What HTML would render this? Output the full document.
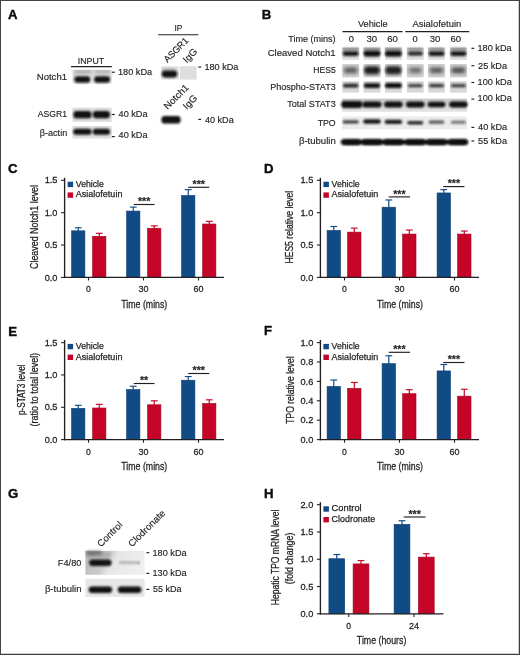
<!DOCTYPE html>
<html lang="en">
<head>
<meta charset="utf-8">
<title>Figure</title>
<style>
html, body { margin: 0; padding: 0; background: #ffffff; }
body { width: 520px; height: 655px; overflow: hidden; position: relative; }
#frame { position: absolute; left: 0; top: 0; width: 520px; height: 655px; box-sizing: border-box;
  border-style: solid; border-color: #454545 #3e3e3e #3e3e3e #454545; border-width: 1px 1.5px 1.3px 1px; box-shadow: inset -1px -1px 0 0 rgba(80,80,80,0.28); pointer-events: none; }
svg { position: absolute; left: 0; top: 0; display: block; will-change: transform; opacity: 0.9999; }
svg text { font-family: "Liberation Sans", sans-serif; }
</style>
</head>
<body>
<svg width="520" height="655" viewBox="0 0 520 655">
<defs>
<filter id="b06" x="-10%" y="-20%" width="120%" height="140%"><feGaussianBlur stdDeviation="0.6"/></filter>
<filter id="b10" x="-20%" y="-60%" width="140%" height="220%"><feGaussianBlur stdDeviation="0.9"/></filter>
<filter id="b16" x="-30%" y="-80%" width="160%" height="260%"><feGaussianBlur stdDeviation="1.7"/></filter>
<linearGradient id="gA" x1="0" y1="0" x2="0" y2="1"><stop offset="0" stop-color="#c6c6c6"/><stop offset="1" stop-color="#e2e2e2"/></linearGradient>
<linearGradient id="gB" x1="0" y1="0" x2="0" y2="1"><stop offset="0" stop-color="#c9c9c9"/><stop offset="1" stop-color="#e4e4e4"/></linearGradient>
<linearGradient id="gG" x1="0" y1="0" x2="1" y2="0.25"><stop offset="0" stop-color="#b6b6b6"/><stop offset="0.42" stop-color="#cbcbcb"/><stop offset="0.56" stop-color="#e6e6e6"/><stop offset="1" stop-color="#efefef"/></linearGradient>
<linearGradient id="gN" x1="0" y1="0" x2="0" y2="1"><stop offset="0" stop-color="#d4d4d4"/><stop offset="0.5" stop-color="#dcdcdc"/><stop offset="1" stop-color="#ececec"/></linearGradient>
</defs>
<rect x="71.60" y="230.82" width="13.30" height="46.58" fill="#104b86" stroke="#0b3c6e" stroke-width="0.6"/>
<line x1="78.25" y1="231.02" x2="78.25" y2="227.80" stroke="#104b86" stroke-width="1.2" stroke-linecap="butt"/>
<line x1="74.85" y1="227.80" x2="81.65" y2="227.80" stroke="#104b86" stroke-width="1.15" stroke-linecap="butt"/>
<rect x="92.60" y="236.32" width="13.30" height="41.08" fill="#c40527" stroke="#a30320" stroke-width="0.6"/>
<line x1="99.25" y1="236.52" x2="99.25" y2="233.30" stroke="#c40527" stroke-width="1.2" stroke-linecap="butt"/>
<line x1="95.85" y1="233.30" x2="102.65" y2="233.30" stroke="#c40527" stroke-width="1.15" stroke-linecap="butt"/>
<rect x="126.60" y="211.07" width="13.30" height="66.33" fill="#104b86" stroke="#0b3c6e" stroke-width="0.6"/>
<line x1="133.25" y1="211.27" x2="133.25" y2="207.09" stroke="#104b86" stroke-width="1.2" stroke-linecap="butt"/>
<line x1="129.85" y1="207.09" x2="136.65" y2="207.09" stroke="#104b86" stroke-width="1.15" stroke-linecap="butt"/>
<rect x="147.60" y="228.23" width="13.30" height="49.17" fill="#c40527" stroke="#a30320" stroke-width="0.6"/>
<line x1="154.25" y1="228.43" x2="154.25" y2="225.86" stroke="#c40527" stroke-width="1.2" stroke-linecap="butt"/>
<line x1="150.85" y1="225.86" x2="157.65" y2="225.86" stroke="#c40527" stroke-width="1.15" stroke-linecap="butt"/>
<rect x="181.60" y="195.54" width="13.30" height="81.86" fill="#104b86" stroke="#0b3c6e" stroke-width="0.6"/>
<line x1="188.25" y1="195.74" x2="188.25" y2="189.61" stroke="#104b86" stroke-width="1.2" stroke-linecap="butt"/>
<line x1="184.85" y1="189.61" x2="191.65" y2="189.61" stroke="#104b86" stroke-width="1.15" stroke-linecap="butt"/>
<rect x="202.60" y="224.02" width="13.30" height="53.38" fill="#c40527" stroke="#a30320" stroke-width="0.6"/>
<line x1="209.25" y1="224.22" x2="209.25" y2="221.33" stroke="#c40527" stroke-width="1.2" stroke-linecap="butt"/>
<line x1="205.85" y1="221.33" x2="212.65" y2="221.33" stroke="#c40527" stroke-width="1.15" stroke-linecap="butt"/>
<line x1="64.60" y1="177.80" x2="64.60" y2="278.05" stroke="#231f20" stroke-width="1.35" stroke-linecap="butt"/>
<line x1="63.95" y1="277.40" x2="224.00" y2="277.40" stroke="#231f20" stroke-width="1.35" stroke-linecap="butt"/>
<line x1="61.10" y1="277.40" x2="64.60" y2="277.40" stroke="#231f20" stroke-width="1.1" stroke-linecap="butt"/>
<text x="57.50" y="280.50" font-size="9.5" text-anchor="end" textLength="12.80" lengthAdjust="spacingAndGlyphs" fill="#231f20" stroke="#231f20" stroke-width="0.28">0.0</text>
<line x1="61.10" y1="245.03" x2="64.60" y2="245.03" stroke="#231f20" stroke-width="1.1" stroke-linecap="butt"/>
<text x="57.50" y="248.13" font-size="9.5" text-anchor="end" textLength="12.80" lengthAdjust="spacingAndGlyphs" fill="#231f20" stroke="#231f20" stroke-width="0.28">0.5</text>
<line x1="61.10" y1="212.67" x2="64.60" y2="212.67" stroke="#231f20" stroke-width="1.1" stroke-linecap="butt"/>
<text x="57.50" y="215.77" font-size="9.5" text-anchor="end" textLength="12.80" lengthAdjust="spacingAndGlyphs" fill="#231f20" stroke="#231f20" stroke-width="0.28">1.0</text>
<line x1="61.10" y1="180.30" x2="64.60" y2="180.30" stroke="#231f20" stroke-width="1.1" stroke-linecap="butt"/>
<text x="57.50" y="183.40" font-size="9.5" text-anchor="end" textLength="12.80" lengthAdjust="spacingAndGlyphs" fill="#231f20" stroke="#231f20" stroke-width="0.28">1.5</text>
<line x1="88.50" y1="277.40" x2="88.50" y2="280.50" stroke="#231f20" stroke-width="1.1" stroke-linecap="butt"/>
<text x="88.50" y="292.00" font-size="9.5" text-anchor="middle" textLength="4.80" lengthAdjust="spacingAndGlyphs" fill="#231f20" stroke="#231f20" stroke-width="0.28">0</text>
<line x1="143.50" y1="277.40" x2="143.50" y2="280.50" stroke="#231f20" stroke-width="1.1" stroke-linecap="butt"/>
<text x="143.50" y="292.00" font-size="9.5" text-anchor="middle" textLength="10.00" lengthAdjust="spacingAndGlyphs" fill="#231f20" stroke="#231f20" stroke-width="0.28">30</text>
<line x1="198.50" y1="277.40" x2="198.50" y2="280.50" stroke="#231f20" stroke-width="1.1" stroke-linecap="butt"/>
<text x="198.50" y="292.00" font-size="9.5" text-anchor="middle" textLength="10.00" lengthAdjust="spacingAndGlyphs" fill="#231f20" stroke="#231f20" stroke-width="0.28">60</text>
<text x="144.30" y="307.60" font-size="10.8" text-anchor="middle" textLength="46.00" lengthAdjust="spacingAndGlyphs" fill="#231f20" stroke="#231f20" stroke-width="0.28">Time (mins)</text>
<rect x="67.60" y="181.70" width="5.50" height="5.40" fill="#104b86"/>
<text x="75.80" y="186.60" font-size="9.2" textLength="28.10" lengthAdjust="spacingAndGlyphs" fill="#231f20" stroke="#231f20" stroke-width="0.25">Vehicle</text>
<rect x="67.60" y="192.40" width="5.50" height="5.40" fill="#c40527"/>
<text x="75.80" y="197.30" font-size="9.2" textLength="46.60" lengthAdjust="spacingAndGlyphs" fill="#231f20" stroke="#231f20" stroke-width="0.25">Asialofetuin</text>
<text x="0" y="0" fill="#231f20" font-size="10.8" text-anchor="middle" textLength="84.0" lengthAdjust="spacingAndGlyphs" stroke="#231f20" stroke-width="0.28" transform="translate(38.30 227.00) rotate(-90)">Cleaved Notch1 level</text>
<line x1="133.75" y1="204.50" x2="154.50" y2="204.50" stroke="#231f20" stroke-width="1.15" stroke-linecap="butt"/>
<text x="144.12" y="205.20" font-size="10.8" text-anchor="middle" textLength="12.45" lengthAdjust="spacingAndGlyphs" font-weight="bold" fill="#231f20" stroke="#231f20" stroke-width="0.16">***</text>
<line x1="188.25" y1="187.30" x2="209.25" y2="187.30" stroke="#231f20" stroke-width="1.15" stroke-linecap="butt"/>
<text x="198.75" y="188.00" font-size="10.8" text-anchor="middle" textLength="12.45" lengthAdjust="spacingAndGlyphs" font-weight="bold" fill="#231f20" stroke="#231f20" stroke-width="0.16">***</text>
<rect x="327.10" y="230.49" width="13.40" height="46.91" fill="#104b86" stroke="#0b3c6e" stroke-width="0.6"/>
<line x1="333.80" y1="230.69" x2="333.80" y2="226.51" stroke="#104b86" stroke-width="1.2" stroke-linecap="butt"/>
<line x1="330.40" y1="226.51" x2="337.20" y2="226.51" stroke="#104b86" stroke-width="1.15" stroke-linecap="butt"/>
<rect x="347.60" y="232.11" width="13.40" height="45.29" fill="#c40527" stroke="#a30320" stroke-width="0.6"/>
<line x1="354.30" y1="232.31" x2="354.30" y2="228.13" stroke="#c40527" stroke-width="1.2" stroke-linecap="butt"/>
<line x1="350.90" y1="228.13" x2="357.70" y2="228.13" stroke="#c40527" stroke-width="1.15" stroke-linecap="butt"/>
<rect x="382.10" y="207.19" width="13.40" height="70.21" fill="#104b86" stroke="#0b3c6e" stroke-width="0.6"/>
<line x1="388.80" y1="207.39" x2="388.80" y2="199.97" stroke="#104b86" stroke-width="1.2" stroke-linecap="butt"/>
<line x1="385.40" y1="199.97" x2="392.20" y2="199.97" stroke="#104b86" stroke-width="1.15" stroke-linecap="butt"/>
<rect x="402.60" y="234.05" width="13.40" height="43.35" fill="#c40527" stroke="#a30320" stroke-width="0.6"/>
<line x1="409.30" y1="234.25" x2="409.30" y2="230.07" stroke="#c40527" stroke-width="1.2" stroke-linecap="butt"/>
<line x1="405.90" y1="230.07" x2="412.70" y2="230.07" stroke="#c40527" stroke-width="1.15" stroke-linecap="butt"/>
<rect x="437.10" y="192.95" width="13.40" height="84.45" fill="#104b86" stroke="#0b3c6e" stroke-width="0.6"/>
<line x1="443.80" y1="193.15" x2="443.80" y2="189.61" stroke="#104b86" stroke-width="1.2" stroke-linecap="butt"/>
<line x1="440.40" y1="189.61" x2="447.20" y2="189.61" stroke="#104b86" stroke-width="1.15" stroke-linecap="butt"/>
<rect x="457.60" y="234.05" width="13.40" height="43.35" fill="#c40527" stroke="#a30320" stroke-width="0.6"/>
<line x1="464.30" y1="234.25" x2="464.30" y2="231.04" stroke="#c40527" stroke-width="1.2" stroke-linecap="butt"/>
<line x1="460.90" y1="231.04" x2="467.70" y2="231.04" stroke="#c40527" stroke-width="1.15" stroke-linecap="butt"/>
<line x1="320.40" y1="177.80" x2="320.40" y2="278.05" stroke="#231f20" stroke-width="1.35" stroke-linecap="butt"/>
<line x1="319.75" y1="277.40" x2="479.00" y2="277.40" stroke="#231f20" stroke-width="1.35" stroke-linecap="butt"/>
<line x1="316.90" y1="277.40" x2="320.40" y2="277.40" stroke="#231f20" stroke-width="1.1" stroke-linecap="butt"/>
<text x="313.30" y="280.50" font-size="9.5" text-anchor="end" textLength="12.80" lengthAdjust="spacingAndGlyphs" fill="#231f20" stroke="#231f20" stroke-width="0.28">0.0</text>
<line x1="316.90" y1="245.03" x2="320.40" y2="245.03" stroke="#231f20" stroke-width="1.1" stroke-linecap="butt"/>
<text x="313.30" y="248.13" font-size="9.5" text-anchor="end" textLength="12.80" lengthAdjust="spacingAndGlyphs" fill="#231f20" stroke="#231f20" stroke-width="0.28">0.5</text>
<line x1="316.90" y1="212.67" x2="320.40" y2="212.67" stroke="#231f20" stroke-width="1.1" stroke-linecap="butt"/>
<text x="313.30" y="215.77" font-size="9.5" text-anchor="end" textLength="12.80" lengthAdjust="spacingAndGlyphs" fill="#231f20" stroke="#231f20" stroke-width="0.28">1.0</text>
<line x1="316.90" y1="180.30" x2="320.40" y2="180.30" stroke="#231f20" stroke-width="1.1" stroke-linecap="butt"/>
<text x="313.30" y="183.40" font-size="9.5" text-anchor="end" textLength="12.80" lengthAdjust="spacingAndGlyphs" fill="#231f20" stroke="#231f20" stroke-width="0.28">1.5</text>
<line x1="344.50" y1="277.40" x2="344.50" y2="280.50" stroke="#231f20" stroke-width="1.1" stroke-linecap="butt"/>
<text x="344.50" y="292.00" font-size="9.5" text-anchor="middle" textLength="4.80" lengthAdjust="spacingAndGlyphs" fill="#231f20" stroke="#231f20" stroke-width="0.28">0</text>
<line x1="399.50" y1="277.40" x2="399.50" y2="280.50" stroke="#231f20" stroke-width="1.1" stroke-linecap="butt"/>
<text x="399.50" y="292.00" font-size="9.5" text-anchor="middle" textLength="10.00" lengthAdjust="spacingAndGlyphs" fill="#231f20" stroke="#231f20" stroke-width="0.28">30</text>
<line x1="454.50" y1="277.40" x2="454.50" y2="280.50" stroke="#231f20" stroke-width="1.1" stroke-linecap="butt"/>
<text x="454.50" y="292.00" font-size="9.5" text-anchor="middle" textLength="10.00" lengthAdjust="spacingAndGlyphs" fill="#231f20" stroke="#231f20" stroke-width="0.28">60</text>
<text x="400.00" y="307.60" font-size="10.8" text-anchor="middle" textLength="46.00" lengthAdjust="spacingAndGlyphs" fill="#231f20" stroke="#231f20" stroke-width="0.28">Time (mins)</text>
<rect x="323.40" y="181.70" width="5.50" height="5.40" fill="#104b86"/>
<text x="331.60" y="186.60" font-size="9.2" textLength="28.10" lengthAdjust="spacingAndGlyphs" fill="#231f20" stroke="#231f20" stroke-width="0.25">Vehicle</text>
<rect x="323.40" y="192.40" width="5.50" height="5.40" fill="#c40527"/>
<text x="331.60" y="197.30" font-size="9.2" textLength="46.60" lengthAdjust="spacingAndGlyphs" fill="#231f20" stroke="#231f20" stroke-width="0.25">Asialofetuin</text>
<text x="0" y="0" fill="#231f20" font-size="10.8" text-anchor="middle" textLength="72.8" lengthAdjust="spacingAndGlyphs" stroke="#231f20" stroke-width="0.28" transform="translate(293.30 227.20) rotate(-90)">HES5 relative level</text>
<line x1="388.75" y1="196.90" x2="410.00" y2="196.90" stroke="#231f20" stroke-width="1.15" stroke-linecap="butt"/>
<text x="399.38" y="197.60" font-size="10.8" text-anchor="middle" textLength="12.45" lengthAdjust="spacingAndGlyphs" font-weight="bold" fill="#231f20" stroke="#231f20" stroke-width="0.16">***</text>
<line x1="443.25" y1="186.60" x2="464.50" y2="186.60" stroke="#231f20" stroke-width="1.15" stroke-linecap="butt"/>
<text x="453.88" y="187.30" font-size="10.8" text-anchor="middle" textLength="12.45" lengthAdjust="spacingAndGlyphs" font-weight="bold" fill="#231f20" stroke="#231f20" stroke-width="0.16">***</text>
<rect x="71.60" y="408.34" width="13.30" height="31.26" fill="#104b86" stroke="#0b3c6e" stroke-width="0.6"/>
<line x1="78.25" y1="408.54" x2="78.25" y2="405.33" stroke="#104b86" stroke-width="1.2" stroke-linecap="butt"/>
<line x1="74.85" y1="405.33" x2="81.65" y2="405.33" stroke="#104b86" stroke-width="1.15" stroke-linecap="butt"/>
<rect x="92.60" y="408.01" width="13.30" height="31.59" fill="#c40527" stroke="#a30320" stroke-width="0.6"/>
<line x1="99.25" y1="408.21" x2="99.25" y2="404.36" stroke="#c40527" stroke-width="1.2" stroke-linecap="butt"/>
<line x1="95.85" y1="404.36" x2="102.65" y2="404.36" stroke="#c40527" stroke-width="1.15" stroke-linecap="butt"/>
<rect x="126.60" y="389.58" width="13.30" height="50.02" fill="#104b86" stroke="#0b3c6e" stroke-width="0.6"/>
<line x1="133.25" y1="389.78" x2="133.25" y2="386.25" stroke="#104b86" stroke-width="1.2" stroke-linecap="butt"/>
<line x1="129.85" y1="386.25" x2="136.65" y2="386.25" stroke="#104b86" stroke-width="1.15" stroke-linecap="butt"/>
<rect x="147.60" y="404.78" width="13.30" height="34.82" fill="#c40527" stroke="#a30320" stroke-width="0.6"/>
<line x1="154.25" y1="404.98" x2="154.25" y2="400.80" stroke="#c40527" stroke-width="1.2" stroke-linecap="butt"/>
<line x1="150.85" y1="400.80" x2="157.65" y2="400.80" stroke="#c40527" stroke-width="1.15" stroke-linecap="butt"/>
<rect x="181.60" y="380.21" width="13.30" height="59.39" fill="#104b86" stroke="#0b3c6e" stroke-width="0.6"/>
<line x1="188.25" y1="380.41" x2="188.25" y2="376.55" stroke="#104b86" stroke-width="1.2" stroke-linecap="butt"/>
<line x1="184.85" y1="376.55" x2="191.65" y2="376.55" stroke="#104b86" stroke-width="1.15" stroke-linecap="butt"/>
<rect x="202.60" y="403.49" width="13.30" height="36.11" fill="#c40527" stroke="#a30320" stroke-width="0.6"/>
<line x1="209.25" y1="403.69" x2="209.25" y2="399.83" stroke="#c40527" stroke-width="1.2" stroke-linecap="butt"/>
<line x1="205.85" y1="399.83" x2="212.65" y2="399.83" stroke="#c40527" stroke-width="1.15" stroke-linecap="butt"/>
<line x1="64.60" y1="340.00" x2="64.60" y2="440.25" stroke="#231f20" stroke-width="1.35" stroke-linecap="butt"/>
<line x1="63.95" y1="439.60" x2="224.00" y2="439.60" stroke="#231f20" stroke-width="1.35" stroke-linecap="butt"/>
<line x1="61.10" y1="439.60" x2="64.60" y2="439.60" stroke="#231f20" stroke-width="1.1" stroke-linecap="butt"/>
<text x="57.50" y="442.70" font-size="9.5" text-anchor="end" textLength="12.80" lengthAdjust="spacingAndGlyphs" fill="#231f20" stroke="#231f20" stroke-width="0.28">0.0</text>
<line x1="61.10" y1="407.27" x2="64.60" y2="407.27" stroke="#231f20" stroke-width="1.1" stroke-linecap="butt"/>
<text x="57.50" y="410.37" font-size="9.5" text-anchor="end" textLength="12.80" lengthAdjust="spacingAndGlyphs" fill="#231f20" stroke="#231f20" stroke-width="0.28">0.5</text>
<line x1="61.10" y1="374.93" x2="64.60" y2="374.93" stroke="#231f20" stroke-width="1.1" stroke-linecap="butt"/>
<text x="57.50" y="378.03" font-size="9.5" text-anchor="end" textLength="12.80" lengthAdjust="spacingAndGlyphs" fill="#231f20" stroke="#231f20" stroke-width="0.28">1.0</text>
<line x1="61.10" y1="342.60" x2="64.60" y2="342.60" stroke="#231f20" stroke-width="1.1" stroke-linecap="butt"/>
<text x="57.50" y="345.70" font-size="9.5" text-anchor="end" textLength="12.80" lengthAdjust="spacingAndGlyphs" fill="#231f20" stroke="#231f20" stroke-width="0.28">1.5</text>
<line x1="88.50" y1="439.60" x2="88.50" y2="442.70" stroke="#231f20" stroke-width="1.1" stroke-linecap="butt"/>
<text x="88.50" y="454.50" font-size="9.5" text-anchor="middle" textLength="4.80" lengthAdjust="spacingAndGlyphs" fill="#231f20" stroke="#231f20" stroke-width="0.28">0</text>
<line x1="143.50" y1="439.60" x2="143.50" y2="442.70" stroke="#231f20" stroke-width="1.1" stroke-linecap="butt"/>
<text x="143.50" y="454.50" font-size="9.5" text-anchor="middle" textLength="10.00" lengthAdjust="spacingAndGlyphs" fill="#231f20" stroke="#231f20" stroke-width="0.28">30</text>
<line x1="198.50" y1="439.60" x2="198.50" y2="442.70" stroke="#231f20" stroke-width="1.1" stroke-linecap="butt"/>
<text x="198.50" y="454.50" font-size="9.5" text-anchor="middle" textLength="10.00" lengthAdjust="spacingAndGlyphs" fill="#231f20" stroke="#231f20" stroke-width="0.28">60</text>
<text x="144.30" y="470.10" font-size="10.8" text-anchor="middle" textLength="46.00" lengthAdjust="spacingAndGlyphs" fill="#231f20" stroke="#231f20" stroke-width="0.28">Time (mins)</text>
<rect x="67.60" y="343.90" width="5.50" height="5.40" fill="#104b86"/>
<text x="75.80" y="348.80" font-size="9.2" textLength="28.10" lengthAdjust="spacingAndGlyphs" fill="#231f20" stroke="#231f20" stroke-width="0.25">Vehicle</text>
<rect x="67.60" y="354.60" width="5.50" height="5.40" fill="#c40527"/>
<text x="75.80" y="359.50" font-size="9.2" textLength="46.60" lengthAdjust="spacingAndGlyphs" fill="#231f20" stroke="#231f20" stroke-width="0.25">Asialofetuin</text>
<text x="0" y="0" fill="#231f20" font-size="10.8" text-anchor="middle" textLength="50.6" lengthAdjust="spacingAndGlyphs" stroke="#231f20" stroke-width="0.28" transform="translate(24.90 389.80) rotate(-90)">p-STAT3 level</text>
<text x="0" y="0" fill="#231f20" font-size="10.8" text-anchor="middle" textLength="73.6" lengthAdjust="spacingAndGlyphs" stroke="#231f20" stroke-width="0.28" transform="translate(37.60 389.70) rotate(-90)">(ratio to total level)</text>
<line x1="133.75" y1="383.50" x2="154.50" y2="383.50" stroke="#231f20" stroke-width="1.15" stroke-linecap="butt"/>
<text x="144.12" y="384.20" font-size="10.8" text-anchor="middle" textLength="8.30" lengthAdjust="spacingAndGlyphs" font-weight="bold" fill="#231f20" stroke="#231f20" stroke-width="0.16">**</text>
<line x1="188.25" y1="373.50" x2="209.25" y2="373.50" stroke="#231f20" stroke-width="1.15" stroke-linecap="butt"/>
<text x="198.75" y="374.20" font-size="10.8" text-anchor="middle" textLength="12.45" lengthAdjust="spacingAndGlyphs" font-weight="bold" fill="#231f20" stroke="#231f20" stroke-width="0.16">***</text>
<rect x="327.10" y="386.44" width="13.40" height="53.16" fill="#104b86" stroke="#0b3c6e" stroke-width="0.6"/>
<line x1="333.80" y1="386.64" x2="333.80" y2="380.03" stroke="#104b86" stroke-width="1.2" stroke-linecap="butt"/>
<line x1="330.40" y1="380.03" x2="337.20" y2="380.03" stroke="#104b86" stroke-width="1.15" stroke-linecap="butt"/>
<rect x="347.60" y="388.38" width="13.40" height="51.22" fill="#c40527" stroke="#a30320" stroke-width="0.6"/>
<line x1="354.30" y1="388.58" x2="354.30" y2="382.46" stroke="#c40527" stroke-width="1.2" stroke-linecap="butt"/>
<line x1="350.90" y1="382.46" x2="357.70" y2="382.46" stroke="#c40527" stroke-width="1.15" stroke-linecap="butt"/>
<rect x="382.10" y="363.64" width="13.40" height="75.96" fill="#104b86" stroke="#0b3c6e" stroke-width="0.6"/>
<line x1="388.80" y1="363.84" x2="388.80" y2="355.78" stroke="#104b86" stroke-width="1.2" stroke-linecap="butt"/>
<line x1="385.40" y1="355.78" x2="392.20" y2="355.78" stroke="#104b86" stroke-width="1.15" stroke-linecap="butt"/>
<rect x="402.60" y="393.71" width="13.40" height="45.89" fill="#c40527" stroke="#a30320" stroke-width="0.6"/>
<line x1="409.30" y1="393.91" x2="409.30" y2="389.73" stroke="#c40527" stroke-width="1.2" stroke-linecap="butt"/>
<line x1="405.90" y1="389.73" x2="412.70" y2="389.73" stroke="#c40527" stroke-width="1.15" stroke-linecap="butt"/>
<rect x="437.10" y="370.92" width="13.40" height="68.68" fill="#104b86" stroke="#0b3c6e" stroke-width="0.6"/>
<line x1="443.80" y1="371.12" x2="443.80" y2="364.51" stroke="#104b86" stroke-width="1.2" stroke-linecap="butt"/>
<line x1="440.40" y1="364.51" x2="447.20" y2="364.51" stroke="#104b86" stroke-width="1.15" stroke-linecap="butt"/>
<rect x="457.60" y="396.14" width="13.40" height="43.46" fill="#c40527" stroke="#a30320" stroke-width="0.6"/>
<line x1="464.30" y1="396.34" x2="464.30" y2="389.25" stroke="#c40527" stroke-width="1.2" stroke-linecap="butt"/>
<line x1="460.90" y1="389.25" x2="467.70" y2="389.25" stroke="#c40527" stroke-width="1.15" stroke-linecap="butt"/>
<line x1="320.40" y1="340.00" x2="320.40" y2="440.25" stroke="#231f20" stroke-width="1.35" stroke-linecap="butt"/>
<line x1="319.75" y1="439.60" x2="479.00" y2="439.60" stroke="#231f20" stroke-width="1.35" stroke-linecap="butt"/>
<line x1="316.90" y1="439.60" x2="320.40" y2="439.60" stroke="#231f20" stroke-width="1.1" stroke-linecap="butt"/>
<text x="313.30" y="442.70" font-size="9.5" text-anchor="end" textLength="12.80" lengthAdjust="spacingAndGlyphs" fill="#231f20" stroke="#231f20" stroke-width="0.28">0.0</text>
<line x1="316.90" y1="420.20" x2="320.40" y2="420.20" stroke="#231f20" stroke-width="1.1" stroke-linecap="butt"/>
<text x="313.30" y="423.30" font-size="9.5" text-anchor="end" textLength="12.80" lengthAdjust="spacingAndGlyphs" fill="#231f20" stroke="#231f20" stroke-width="0.28">0.2</text>
<line x1="316.90" y1="400.80" x2="320.40" y2="400.80" stroke="#231f20" stroke-width="1.1" stroke-linecap="butt"/>
<text x="313.30" y="403.90" font-size="9.5" text-anchor="end" textLength="12.80" lengthAdjust="spacingAndGlyphs" fill="#231f20" stroke="#231f20" stroke-width="0.28">0.4</text>
<line x1="316.90" y1="381.40" x2="320.40" y2="381.40" stroke="#231f20" stroke-width="1.1" stroke-linecap="butt"/>
<text x="313.30" y="384.50" font-size="9.5" text-anchor="end" textLength="12.80" lengthAdjust="spacingAndGlyphs" fill="#231f20" stroke="#231f20" stroke-width="0.28">0.6</text>
<line x1="316.90" y1="362.00" x2="320.40" y2="362.00" stroke="#231f20" stroke-width="1.1" stroke-linecap="butt"/>
<text x="313.30" y="365.10" font-size="9.5" text-anchor="end" textLength="12.80" lengthAdjust="spacingAndGlyphs" fill="#231f20" stroke="#231f20" stroke-width="0.28">0.8</text>
<line x1="316.90" y1="342.60" x2="320.40" y2="342.60" stroke="#231f20" stroke-width="1.1" stroke-linecap="butt"/>
<text x="313.30" y="345.70" font-size="9.5" text-anchor="end" textLength="12.80" lengthAdjust="spacingAndGlyphs" fill="#231f20" stroke="#231f20" stroke-width="0.28">1.0</text>
<line x1="344.50" y1="439.60" x2="344.50" y2="442.70" stroke="#231f20" stroke-width="1.1" stroke-linecap="butt"/>
<text x="344.50" y="454.50" font-size="9.5" text-anchor="middle" textLength="4.80" lengthAdjust="spacingAndGlyphs" fill="#231f20" stroke="#231f20" stroke-width="0.28">0</text>
<line x1="399.50" y1="439.60" x2="399.50" y2="442.70" stroke="#231f20" stroke-width="1.1" stroke-linecap="butt"/>
<text x="399.50" y="454.50" font-size="9.5" text-anchor="middle" textLength="10.00" lengthAdjust="spacingAndGlyphs" fill="#231f20" stroke="#231f20" stroke-width="0.28">30</text>
<line x1="454.50" y1="439.60" x2="454.50" y2="442.70" stroke="#231f20" stroke-width="1.1" stroke-linecap="butt"/>
<text x="454.50" y="454.50" font-size="9.5" text-anchor="middle" textLength="10.00" lengthAdjust="spacingAndGlyphs" fill="#231f20" stroke="#231f20" stroke-width="0.28">60</text>
<text x="400.00" y="470.10" font-size="10.8" text-anchor="middle" textLength="46.00" lengthAdjust="spacingAndGlyphs" fill="#231f20" stroke="#231f20" stroke-width="0.28">Time (mins)</text>
<rect x="323.40" y="343.90" width="5.50" height="5.40" fill="#104b86"/>
<text x="331.60" y="348.80" font-size="9.2" textLength="28.10" lengthAdjust="spacingAndGlyphs" fill="#231f20" stroke="#231f20" stroke-width="0.25">Vehicle</text>
<rect x="323.40" y="354.60" width="5.50" height="5.40" fill="#c40527"/>
<text x="331.60" y="359.50" font-size="9.2" textLength="46.60" lengthAdjust="spacingAndGlyphs" fill="#231f20" stroke="#231f20" stroke-width="0.25">Asialofetuin</text>
<text x="0" y="0" fill="#231f20" font-size="10.8" text-anchor="middle" textLength="67.5" lengthAdjust="spacingAndGlyphs" stroke="#231f20" stroke-width="0.28" transform="translate(293.50 390.00) rotate(-90)">TPO relative level</text>
<line x1="388.75" y1="352.30" x2="410.00" y2="352.30" stroke="#231f20" stroke-width="1.15" stroke-linecap="butt"/>
<text x="399.38" y="353.00" font-size="10.8" text-anchor="middle" textLength="12.45" lengthAdjust="spacingAndGlyphs" font-weight="bold" fill="#231f20" stroke="#231f20" stroke-width="0.16">***</text>
<line x1="443.25" y1="362.50" x2="464.50" y2="362.50" stroke="#231f20" stroke-width="1.15" stroke-linecap="butt"/>
<text x="453.88" y="363.20" font-size="10.8" text-anchor="middle" textLength="12.45" lengthAdjust="spacingAndGlyphs" font-weight="bold" fill="#231f20" stroke="#231f20" stroke-width="0.16">***</text>
<rect x="328.90" y="558.73" width="15.80" height="55.07" fill="#104b86" stroke="#0b3c6e" stroke-width="0.6"/>
<line x1="336.80" y1="558.93" x2="336.80" y2="554.54" stroke="#104b86" stroke-width="1.2" stroke-linecap="butt"/>
<line x1="333.40" y1="554.54" x2="340.20" y2="554.54" stroke="#104b86" stroke-width="1.15" stroke-linecap="butt"/>
<rect x="353.10" y="563.91" width="15.80" height="49.89" fill="#c40527" stroke="#a30320" stroke-width="0.6"/>
<line x1="361.00" y1="564.11" x2="361.00" y2="560.54" stroke="#c40527" stroke-width="1.2" stroke-linecap="butt"/>
<line x1="357.60" y1="560.54" x2="364.40" y2="560.54" stroke="#c40527" stroke-width="1.15" stroke-linecap="butt"/>
<rect x="394.10" y="524.37" width="15.80" height="89.43" fill="#104b86" stroke="#0b3c6e" stroke-width="0.6"/>
<line x1="402.00" y1="524.57" x2="402.00" y2="520.72" stroke="#104b86" stroke-width="1.2" stroke-linecap="butt"/>
<line x1="398.60" y1="520.72" x2="405.40" y2="520.72" stroke="#104b86" stroke-width="1.15" stroke-linecap="butt"/>
<rect x="418.40" y="557.10" width="15.80" height="56.70" fill="#c40527" stroke="#a30320" stroke-width="0.6"/>
<line x1="426.30" y1="557.30" x2="426.30" y2="553.72" stroke="#c40527" stroke-width="1.2" stroke-linecap="butt"/>
<line x1="422.90" y1="553.72" x2="429.70" y2="553.72" stroke="#c40527" stroke-width="1.15" stroke-linecap="butt"/>
<line x1="320.40" y1="502.20" x2="320.40" y2="614.45" stroke="#231f20" stroke-width="1.35" stroke-linecap="butt"/>
<line x1="319.75" y1="613.80" x2="443.50" y2="613.80" stroke="#231f20" stroke-width="1.35" stroke-linecap="butt"/>
<line x1="316.90" y1="613.80" x2="320.40" y2="613.80" stroke="#231f20" stroke-width="1.1" stroke-linecap="butt"/>
<text x="313.30" y="616.90" font-size="9.5" text-anchor="end" textLength="12.80" lengthAdjust="spacingAndGlyphs" fill="#231f20" stroke="#231f20" stroke-width="0.28">0.0</text>
<line x1="316.90" y1="586.52" x2="320.40" y2="586.52" stroke="#231f20" stroke-width="1.1" stroke-linecap="butt"/>
<text x="313.30" y="589.62" font-size="9.5" text-anchor="end" textLength="12.80" lengthAdjust="spacingAndGlyphs" fill="#231f20" stroke="#231f20" stroke-width="0.28">0.5</text>
<line x1="316.90" y1="559.25" x2="320.40" y2="559.25" stroke="#231f20" stroke-width="1.1" stroke-linecap="butt"/>
<text x="313.30" y="562.35" font-size="9.5" text-anchor="end" textLength="12.80" lengthAdjust="spacingAndGlyphs" fill="#231f20" stroke="#231f20" stroke-width="0.28">1.0</text>
<line x1="316.90" y1="531.98" x2="320.40" y2="531.98" stroke="#231f20" stroke-width="1.1" stroke-linecap="butt"/>
<text x="313.30" y="535.08" font-size="9.5" text-anchor="end" textLength="12.80" lengthAdjust="spacingAndGlyphs" fill="#231f20" stroke="#231f20" stroke-width="0.28">1.5</text>
<line x1="316.90" y1="504.70" x2="320.40" y2="504.70" stroke="#231f20" stroke-width="1.1" stroke-linecap="butt"/>
<text x="313.30" y="507.80" font-size="9.5" text-anchor="end" textLength="12.80" lengthAdjust="spacingAndGlyphs" fill="#231f20" stroke="#231f20" stroke-width="0.28">2.0</text>
<line x1="348.75" y1="613.80" x2="348.75" y2="616.90" stroke="#231f20" stroke-width="1.1" stroke-linecap="butt"/>
<text x="348.75" y="629.00" font-size="9.5" text-anchor="middle" textLength="4.80" lengthAdjust="spacingAndGlyphs" fill="#231f20" stroke="#231f20" stroke-width="0.28">0</text>
<line x1="414.00" y1="613.80" x2="414.00" y2="616.90" stroke="#231f20" stroke-width="1.1" stroke-linecap="butt"/>
<text x="414.00" y="629.00" font-size="9.5" text-anchor="middle" textLength="10.00" lengthAdjust="spacingAndGlyphs" fill="#231f20" stroke="#231f20" stroke-width="0.28">24</text>
<text x="381.60" y="644.00" font-size="10.8" text-anchor="middle" textLength="49.50" lengthAdjust="spacingAndGlyphs" fill="#231f20" stroke="#231f20" stroke-width="0.28">Time (hours)</text>
<rect x="323.40" y="506.30" width="5.50" height="5.40" fill="#104b86"/>
<text x="331.60" y="511.20" font-size="9.2" textLength="30.10" lengthAdjust="spacingAndGlyphs" fill="#231f20" stroke="#231f20" stroke-width="0.25">Control</text>
<rect x="323.40" y="517.00" width="5.50" height="5.40" fill="#c40527"/>
<text x="331.60" y="521.90" font-size="9.2" textLength="43.60" lengthAdjust="spacingAndGlyphs" fill="#231f20" stroke="#231f20" stroke-width="0.25">Clodronate</text>
<text x="0" y="0" fill="#231f20" font-size="10.8" text-anchor="middle" textLength="95.8" lengthAdjust="spacingAndGlyphs" stroke="#231f20" stroke-width="0.28" transform="translate(279.00 557.40) rotate(-90)">Hepatic TPO mRNA level</text>
<text x="0" y="0" fill="#231f20" font-size="10.8" text-anchor="middle" textLength="51.6" lengthAdjust="spacingAndGlyphs" stroke="#231f20" stroke-width="0.28" transform="translate(293.30 558.40) rotate(-90)">(fold change)</text>
<line x1="403.75" y1="517.00" x2="425.50" y2="517.00" stroke="#231f20" stroke-width="1.15" stroke-linecap="butt"/>
<text x="414.62" y="517.70" font-size="10.8" text-anchor="middle" textLength="12.45" lengthAdjust="spacingAndGlyphs" font-weight="bold" fill="#231f20" stroke="#231f20" stroke-width="0.16">***</text>
<text x="8.00" y="18.80" font-size="13.2" font-weight="bold" fill="#0c0c0c" stroke="#0c0c0c" stroke-width="0.4">A</text>
<text x="261.80" y="19.40" font-size="13.2" font-weight="bold" fill="#0c0c0c" stroke="#0c0c0c" stroke-width="0.4">B</text>
<text x="8.00" y="173.30" font-size="13.2" font-weight="bold" fill="#0c0c0c" stroke="#0c0c0c" stroke-width="0.4">C</text>
<text x="264.00" y="173.10" font-size="13.2" font-weight="bold" fill="#0c0c0c" stroke="#0c0c0c" stroke-width="0.4">D</text>
<text x="8.30" y="335.60" font-size="13.2" font-weight="bold" fill="#0c0c0c" stroke="#0c0c0c" stroke-width="0.4">E</text>
<text x="264.00" y="335.40" font-size="13.2" font-weight="bold" fill="#0c0c0c" stroke="#0c0c0c" stroke-width="0.4">F</text>
<text x="7.90" y="498.30" font-size="13.2" font-weight="bold" fill="#0c0c0c" stroke="#0c0c0c" stroke-width="0.4">G</text>
<text x="263.90" y="498.00" font-size="13.2" font-weight="bold" fill="#0c0c0c" stroke="#0c0c0c" stroke-width="0.4">H</text>
<text x="91.00" y="63.50" font-size="9.1" text-anchor="middle" textLength="26.30" lengthAdjust="spacingAndGlyphs" fill="#231f20" stroke="#231f20" stroke-width="0.16">INPUT</text>
<line x1="71.00" y1="66.60" x2="111.80" y2="66.60" stroke="#231f20" stroke-width="1.1" stroke-linecap="butt"/>
<text x="67.00" y="80.20" font-size="9.5" text-anchor="end" textLength="30.20" lengthAdjust="spacingAndGlyphs" fill="#231f20" stroke="#231f20" stroke-width="0.16">Notch1</text>
<text x="67.00" y="116.80" font-size="9.5" text-anchor="end" textLength="29.20" lengthAdjust="spacingAndGlyphs" fill="#231f20" stroke="#231f20" stroke-width="0.16">ASGR1</text>
<text x="67.20" y="135.60" font-size="9.5" text-anchor="end" textLength="27.40" lengthAdjust="spacingAndGlyphs" fill="#231f20" stroke="#231f20" stroke-width="0.16">β-actin</text>
<rect x="72.60" y="69.90" width="39.00" height="14.00" fill="url(#gN)" filter="url(#b06)"/>
<rect x="74.75" y="70.70" width="16.50" height="2.60" rx="1.30" fill="#0a0a0a" opacity="0.22" filter="url(#b10)"/>
<rect x="95.05" y="70.70" width="14.50" height="2.60" rx="1.30" fill="#0a0a0a" opacity="0.2" filter="url(#b10)"/>
<rect x="74.40" y="76.30" width="15.80" height="6.40" rx="3.20" fill="#0a0a0a" opacity="0.97" filter="url(#b10)"/>
<rect x="94.20" y="76.30" width="15.80" height="6.40" rx="3.20" fill="#0a0a0a" opacity="0.97" filter="url(#b10)"/>
<rect x="72.50" y="107.60" width="39.20" height="14.20" fill="#dedede" filter="url(#b06)"/>
<rect x="73.40" y="110.90" width="18.20" height="7.40" rx="3.40" fill="#0a0a0a" opacity="0.98" filter="url(#b10)"/>
<rect x="92.80" y="111.00" width="17.20" height="7.20" rx="3.40" fill="#0a0a0a" opacity="0.98" filter="url(#b10)"/>
<rect x="72.50" y="126.00" width="39.20" height="12.60" fill="#e0e0e0" filter="url(#b06)"/>
<rect x="73.20" y="128.70" width="18.40" height="6.00" rx="3.00" fill="#0a0a0a" opacity="0.98" filter="url(#b10)"/>
<rect x="92.70" y="128.70" width="17.40" height="6.00" rx="3.00" fill="#0a0a0a" opacity="0.98" filter="url(#b10)"/>
<line x1="111.90" y1="72.20" x2="114.80" y2="72.20" stroke="#231f20" stroke-width="1.15" stroke-linecap="butt"/>
<text x="118.05" y="74.90" font-size="9.4" textLength="34.00" lengthAdjust="spacingAndGlyphs" fill="#231f20" stroke="#231f20" stroke-width="0.16">180 kDa</text>
<line x1="111.90" y1="114.50" x2="114.80" y2="114.50" stroke="#231f20" stroke-width="1.15" stroke-linecap="butt"/>
<text x="118.55" y="117.20" font-size="9.4" textLength="29.00" lengthAdjust="spacingAndGlyphs" fill="#231f20" stroke="#231f20" stroke-width="0.16">40 kDa</text>
<line x1="111.90" y1="136.60" x2="114.80" y2="136.60" stroke="#231f20" stroke-width="1.15" stroke-linecap="butt"/>
<text x="118.55" y="137.90" font-size="9.4" textLength="29.00" lengthAdjust="spacingAndGlyphs" fill="#231f20" stroke="#231f20" stroke-width="0.16">40 kDa</text>
<text x="178.50" y="31.00" font-size="9.4" text-anchor="middle" textLength="7.90" lengthAdjust="spacingAndGlyphs" fill="#231f20" stroke="#231f20" stroke-width="0.16">IP</text>
<line x1="158.20" y1="34.70" x2="198.40" y2="34.70" stroke="#231f20" stroke-width="1.1" stroke-linecap="butt"/>
<text x="167.40" y="62.90" font-size="9.4" textLength="30.60" lengthAdjust="spacingAndGlyphs" transform="rotate(-45 167.40 62.90)" fill="#231f20" stroke="#231f20" stroke-width="0.16">ASGR1</text>
<text x="186.80" y="63.40" font-size="9.6" textLength="15.80" lengthAdjust="spacingAndGlyphs" transform="rotate(-45 186.80 63.40)" fill="#231f20" stroke="#231f20" stroke-width="0.16">IgG</text>
<text x="167.50" y="110.00" font-size="9.4" textLength="31.00" lengthAdjust="spacingAndGlyphs" transform="rotate(-45 167.50 110.00)" fill="#231f20" stroke="#231f20" stroke-width="0.16">Notch1</text>
<text x="186.80" y="109.90" font-size="9.6" textLength="15.80" lengthAdjust="spacingAndGlyphs" transform="rotate(-45 186.80 109.90)" fill="#231f20" stroke="#231f20" stroke-width="0.16">IgG</text>
<rect x="161.00" y="66.20" width="18.00" height="13.40" fill="#e4e4e4" filter="url(#b06)"/>
<rect x="179.80" y="66.20" width="16.80" height="13.40" fill="#dedede" filter="url(#b06)"/>
<rect x="161.70" y="70.80" width="15.60" height="6.60" rx="3.30" fill="#0a0a0a" opacity="0.98" filter="url(#b10)"/>
<rect x="162.30" y="68.50" width="14.00" height="3.00" rx="1.50" fill="#0a0a0a" opacity="0.25" filter="url(#b10)"/>
<rect x="161.40" y="116.00" width="19.20" height="7.60" rx="3.40" fill="#0a0a0a" opacity="0.98" filter="url(#b10)"/>
<line x1="198.30" y1="67.10" x2="201.20" y2="67.10" stroke="#231f20" stroke-width="1.15" stroke-linecap="butt"/>
<text x="204.45" y="70.20" font-size="9.4" textLength="34.00" lengthAdjust="spacingAndGlyphs" fill="#231f20" stroke="#231f20" stroke-width="0.16">180 kDa</text>
<line x1="198.30" y1="119.40" x2="201.20" y2="119.40" stroke="#231f20" stroke-width="1.15" stroke-linecap="butt"/>
<text x="204.95" y="122.50" font-size="9.4" textLength="28.80" lengthAdjust="spacingAndGlyphs" fill="#231f20" stroke="#231f20" stroke-width="0.16">40 kDa</text>
<text x="372.80" y="27.00" font-size="9.4" text-anchor="middle" textLength="29.80" lengthAdjust="spacingAndGlyphs" fill="#231f20" stroke="#231f20" stroke-width="0.16">Vehicle</text>
<text x="436.90" y="27.00" font-size="9.4" text-anchor="middle" textLength="49.00" lengthAdjust="spacingAndGlyphs" fill="#231f20" stroke="#231f20" stroke-width="0.16">Asialofetuin</text>
<line x1="342.50" y1="31.60" x2="402.50" y2="31.60" stroke="#231f20" stroke-width="1.1" stroke-linecap="butt"/>
<line x1="405.30" y1="31.60" x2="469.20" y2="31.60" stroke="#231f20" stroke-width="1.1" stroke-linecap="butt"/>
<text x="335.60" y="42.00" font-size="9.4" text-anchor="end" textLength="47.40" lengthAdjust="spacingAndGlyphs" fill="#231f20" stroke="#231f20" stroke-width="0.16">Time (mins)</text>
<text x="351.25" y="42.00" font-size="9.4" text-anchor="middle" textLength="5.20" lengthAdjust="spacingAndGlyphs" fill="#231f20" stroke="#231f20" stroke-width="0.16">0</text>
<text x="371.75" y="42.00" font-size="9.4" text-anchor="middle" textLength="10.70" lengthAdjust="spacingAndGlyphs" fill="#231f20" stroke="#231f20" stroke-width="0.16">30</text>
<text x="392.50" y="42.00" font-size="9.4" text-anchor="middle" textLength="10.70" lengthAdjust="spacingAndGlyphs" fill="#231f20" stroke="#231f20" stroke-width="0.16">60</text>
<text x="415.00" y="42.00" font-size="9.4" text-anchor="middle" textLength="5.20" lengthAdjust="spacingAndGlyphs" fill="#231f20" stroke="#231f20" stroke-width="0.16">0</text>
<text x="435.00" y="42.00" font-size="9.4" text-anchor="middle" textLength="10.70" lengthAdjust="spacingAndGlyphs" fill="#231f20" stroke="#231f20" stroke-width="0.16">30</text>
<text x="455.75" y="42.00" font-size="9.4" text-anchor="middle" textLength="10.70" lengthAdjust="spacingAndGlyphs" fill="#231f20" stroke="#231f20" stroke-width="0.16">60</text>
<text x="335.70" y="55.90" font-size="9.4" text-anchor="end" textLength="68.00" lengthAdjust="spacingAndGlyphs" fill="#231f20" stroke="#231f20" stroke-width="0.16">Cleaved Notch1</text>
<text x="335.70" y="73.10" font-size="9.4" text-anchor="end" textLength="22.50" lengthAdjust="spacingAndGlyphs" fill="#231f20" stroke="#231f20" stroke-width="0.16">HES5</text>
<text x="335.70" y="89.60" font-size="9.4" text-anchor="end" textLength="65.50" lengthAdjust="spacingAndGlyphs" fill="#231f20" stroke="#231f20" stroke-width="0.16">Phospho-STAT3</text>
<text x="335.70" y="106.90" font-size="9.4" text-anchor="end" textLength="48.50" lengthAdjust="spacingAndGlyphs" fill="#231f20" stroke="#231f20" stroke-width="0.16">Total STAT3</text>
<text x="335.70" y="125.60" font-size="9.4" text-anchor="end" textLength="18.00" lengthAdjust="spacingAndGlyphs" fill="#231f20" stroke="#231f20" stroke-width="0.16">TPO</text>
<text x="335.70" y="143.60" font-size="9.4" text-anchor="end" textLength="36.80" lengthAdjust="spacingAndGlyphs" fill="#231f20" stroke="#231f20" stroke-width="0.16">β-tubulin</text>
<rect x="342.30" y="47.60" width="16.80" height="12.40" fill="url(#gA)" filter="url(#b06)"/>
<rect x="363.60" y="47.60" width="16.80" height="12.40" fill="url(#gA)" filter="url(#b06)"/>
<rect x="385.00" y="47.60" width="16.80" height="12.40" fill="url(#gA)" filter="url(#b06)"/>
<rect x="406.90" y="47.60" width="16.80" height="12.40" fill="url(#gA)" filter="url(#b06)"/>
<rect x="428.10" y="47.60" width="16.80" height="12.40" fill="url(#gA)" filter="url(#b06)"/>
<rect x="450.00" y="47.60" width="16.80" height="12.40" fill="url(#gA)" filter="url(#b06)"/>
<rect x="342.70" y="47.80" width="16.00" height="2.40" rx="1.20" fill="#0a0a0a" opacity="0.345" filter="url(#b10)"/>
<rect x="342.70" y="51.30" width="16.00" height="4.60" rx="2.30" fill="#0a0a0a" opacity="0.94" filter="url(#b10)"/>
<rect x="363.50" y="47.80" width="17.00" height="2.40" rx="1.20" fill="#0a0a0a" opacity="0.37" filter="url(#b10)"/>
<rect x="363.50" y="50.80" width="17.00" height="5.60" rx="2.80" fill="#0a0a0a" opacity="0.99" filter="url(#b10)"/>
<rect x="384.90" y="47.80" width="17.00" height="2.40" rx="1.20" fill="#0a0a0a" opacity="0.37" filter="url(#b10)"/>
<rect x="384.90" y="50.70" width="17.00" height="5.80" rx="2.90" fill="#0a0a0a" opacity="0.99" filter="url(#b10)"/>
<rect x="407.80" y="47.80" width="15.00" height="2.40" rx="1.20" fill="#0a0a0a" opacity="0.315" filter="url(#b10)"/>
<rect x="407.80" y="51.60" width="15.00" height="4.00" rx="2.00" fill="#0a0a0a" opacity="0.88" filter="url(#b10)"/>
<rect x="428.50" y="47.80" width="16.00" height="2.40" rx="1.20" fill="#0a0a0a" opacity="0.34" filter="url(#b10)"/>
<rect x="428.50" y="51.30" width="16.00" height="4.60" rx="2.30" fill="#0a0a0a" opacity="0.93" filter="url(#b10)"/>
<rect x="450.40" y="47.80" width="16.00" height="2.40" rx="1.20" fill="#0a0a0a" opacity="0.35" filter="url(#b10)"/>
<rect x="450.40" y="51.20" width="16.00" height="4.80" rx="2.40" fill="#0a0a0a" opacity="0.95" filter="url(#b10)"/>
<rect x="342.30" y="64.00" width="16.80" height="13.40" fill="#d2d2d2" filter="url(#b06)"/>
<rect x="363.60" y="64.00" width="16.80" height="13.40" fill="#d2d2d2" filter="url(#b06)"/>
<rect x="385.00" y="64.00" width="16.80" height="13.40" fill="#d2d2d2" filter="url(#b06)"/>
<rect x="406.90" y="64.00" width="16.80" height="13.40" fill="#d2d2d2" filter="url(#b06)"/>
<rect x="428.10" y="64.00" width="16.80" height="13.40" fill="#d2d2d2" filter="url(#b06)"/>
<rect x="450.00" y="64.00" width="16.80" height="13.40" fill="#d2d2d2" filter="url(#b06)"/>
<rect x="342.70" y="65.90" width="16.00" height="9.00" rx="3.40" fill="#0a0a0a" opacity="0.175" filter="url(#b16)"/>
<rect x="344.70" y="67.70" width="12.00" height="5.00" rx="2.50" fill="#0a0a0a" opacity="0.5" filter="url(#b16)"/>
<rect x="364.00" y="65.90" width="16.00" height="9.00" rx="3.40" fill="#0a0a0a" opacity="0.315" filter="url(#b16)"/>
<rect x="364.50" y="66.70" width="15.00" height="7.00" rx="3.40" fill="#0a0a0a" opacity="0.9" filter="url(#b16)"/>
<rect x="385.40" y="65.90" width="16.00" height="9.00" rx="3.40" fill="#0a0a0a" opacity="0.308" filter="url(#b16)"/>
<rect x="385.65" y="66.70" width="15.50" height="7.00" rx="3.40" fill="#0a0a0a" opacity="0.88" filter="url(#b16)"/>
<rect x="407.30" y="65.90" width="16.00" height="9.00" rx="3.40" fill="#0a0a0a" opacity="0.147" filter="url(#b16)"/>
<rect x="409.80" y="67.90" width="11.00" height="4.60" rx="2.30" fill="#0a0a0a" opacity="0.42" filter="url(#b16)"/>
<rect x="428.50" y="65.90" width="16.00" height="9.00" rx="3.40" fill="#0a0a0a" opacity="0.182" filter="url(#b16)"/>
<rect x="430.50" y="68.00" width="12.00" height="4.40" rx="2.20" fill="#0a0a0a" opacity="0.52" filter="url(#b16)"/>
<rect x="450.40" y="65.90" width="16.00" height="9.00" rx="3.40" fill="#0a0a0a" opacity="0.20299999999999999" filter="url(#b16)"/>
<rect x="452.15" y="68.00" width="12.50" height="4.40" rx="2.20" fill="#0a0a0a" opacity="0.58" filter="url(#b16)"/>
<rect x="342.30" y="81.20" width="16.80" height="11.40" fill="#d8d8d8" filter="url(#b06)"/>
<rect x="363.60" y="81.20" width="16.80" height="11.40" fill="#d8d8d8" filter="url(#b06)"/>
<rect x="385.00" y="81.20" width="16.80" height="11.40" fill="#d8d8d8" filter="url(#b06)"/>
<rect x="406.90" y="81.20" width="16.80" height="11.40" fill="#d8d8d8" filter="url(#b06)"/>
<rect x="428.10" y="81.20" width="16.80" height="11.40" fill="#d8d8d8" filter="url(#b06)"/>
<rect x="450.00" y="81.20" width="16.80" height="11.40" fill="#d8d8d8" filter="url(#b06)"/>
<rect x="342.95" y="83.70" width="15.50" height="3.80" rx="1.90" fill="#0a0a0a" opacity="0.88" filter="url(#b10)"/>
<rect x="363.75" y="83.30" width="16.50" height="4.60" rx="2.30" fill="#0a0a0a" opacity="0.97" filter="url(#b10)"/>
<rect x="384.90" y="83.10" width="17.00" height="5.00" rx="2.50" fill="#0a0a0a" opacity="0.99" filter="url(#b10)"/>
<rect x="408.05" y="84.00" width="14.50" height="3.20" rx="1.60" fill="#0a0a0a" opacity="0.75" filter="url(#b10)"/>
<rect x="429.00" y="84.00" width="15.00" height="3.20" rx="1.60" fill="#0a0a0a" opacity="0.8" filter="url(#b10)"/>
<rect x="450.90" y="84.00" width="15.00" height="3.20" rx="1.60" fill="#0a0a0a" opacity="0.75" filter="url(#b10)"/>
<rect x="342.00" y="98.60" width="125.00" height="13.20" fill="url(#gB)" filter="url(#b06)"/>
<rect x="341.15" y="101.10" width="21.50" height="6.80" rx="3.40" fill="#0a0a0a" opacity="0.98" filter="url(#b10)"/>
<rect x="362.50" y="101.40" width="19.00" height="6.20" rx="3.10" fill="#0a0a0a" opacity="0.98" filter="url(#b10)"/>
<rect x="384.15" y="101.50" width="18.50" height="6.00" rx="3.00" fill="#0a0a0a" opacity="0.98" filter="url(#b10)"/>
<rect x="406.05" y="101.50" width="18.50" height="6.00" rx="3.00" fill="#0a0a0a" opacity="0.98" filter="url(#b10)"/>
<rect x="427.60" y="101.70" width="17.80" height="5.60" rx="2.80" fill="#0a0a0a" opacity="0.98" filter="url(#b10)"/>
<rect x="449.15" y="101.50" width="18.50" height="6.00" rx="3.00" fill="#0a0a0a" opacity="0.98" filter="url(#b10)"/>
<rect x="342.00" y="116.40" width="125.00" height="12.80" fill="#ececec" filter="url(#b06)"/>
<rect x="342.70" y="120.30" width="16.00" height="3.20" rx="1.60" fill="#0a0a0a" opacity="0.78" filter="url(#b10)"/>
<rect x="363.25" y="119.30" width="17.50" height="4.40" rx="2.20" fill="#0a0a0a" opacity="0.95" filter="url(#b10)"/>
<rect x="384.65" y="119.80" width="17.50" height="4.20" rx="2.10" fill="#0a0a0a" opacity="0.92" filter="url(#b10)"/>
<rect x="407.30" y="121.00" width="16.00" height="3.60" rx="1.80" fill="#0a0a0a" opacity="0.88" filter="url(#b10)"/>
<rect x="428.75" y="120.60" width="15.50" height="3.20" rx="1.60" fill="#0a0a0a" opacity="0.66" filter="url(#b10)"/>
<rect x="450.90" y="120.70" width="15.00" height="3.00" rx="1.50" fill="#0a0a0a" opacity="0.55" filter="url(#b10)"/>
<rect x="342.00" y="137.20" width="125.00" height="9.20" fill="#f1f1f1" filter="url(#b06)"/>
<rect x="343.30" y="140.00" width="123.00" height="4.20" rx="2.10" fill="#0a0a0a" opacity="0.98" filter="url(#b10)"/>
<rect x="340.70" y="139.30" width="20.00" height="5.60" rx="2.80" fill="#0a0a0a" opacity="0.97" filter="url(#b10)"/>
<rect x="362.00" y="139.30" width="20.00" height="5.60" rx="2.80" fill="#0a0a0a" opacity="0.97" filter="url(#b10)"/>
<rect x="383.40" y="139.30" width="20.00" height="5.60" rx="2.80" fill="#0a0a0a" opacity="0.97" filter="url(#b10)"/>
<rect x="405.30" y="139.30" width="20.00" height="5.60" rx="2.80" fill="#0a0a0a" opacity="0.97" filter="url(#b10)"/>
<rect x="426.50" y="139.30" width="20.00" height="5.60" rx="2.80" fill="#0a0a0a" opacity="0.97" filter="url(#b10)"/>
<rect x="448.40" y="139.30" width="20.00" height="5.60" rx="2.80" fill="#0a0a0a" opacity="0.97" filter="url(#b10)"/>
<line x1="471.40" y1="48.30" x2="474.30" y2="48.30" stroke="#231f20" stroke-width="1.15" stroke-linecap="butt"/>
<text x="477.55" y="51.20" font-size="9.4" textLength="34.00" lengthAdjust="spacingAndGlyphs" fill="#231f20" stroke="#231f20" stroke-width="0.16">180 kDa</text>
<line x1="471.40" y1="65.70" x2="474.30" y2="65.70" stroke="#231f20" stroke-width="1.15" stroke-linecap="butt"/>
<text x="478.05" y="68.70" font-size="9.4" textLength="29.00" lengthAdjust="spacingAndGlyphs" fill="#231f20" stroke="#231f20" stroke-width="0.16">25 kDa</text>
<line x1="471.40" y1="82.50" x2="474.30" y2="82.50" stroke="#231f20" stroke-width="1.15" stroke-linecap="butt"/>
<text x="477.55" y="84.90" font-size="9.4" textLength="34.20" lengthAdjust="spacingAndGlyphs" fill="#231f20" stroke="#231f20" stroke-width="0.16">100 kDa</text>
<line x1="471.40" y1="99.10" x2="474.30" y2="99.10" stroke="#231f20" stroke-width="1.15" stroke-linecap="butt"/>
<text x="477.55" y="100.90" font-size="9.4" textLength="34.20" lengthAdjust="spacingAndGlyphs" fill="#231f20" stroke="#231f20" stroke-width="0.16">100 kDa</text>
<line x1="471.40" y1="127.40" x2="474.30" y2="127.40" stroke="#231f20" stroke-width="1.15" stroke-linecap="butt"/>
<text x="478.05" y="129.70" font-size="9.4" textLength="29.20" lengthAdjust="spacingAndGlyphs" fill="#231f20" stroke="#231f20" stroke-width="0.16">40 kDa</text>
<line x1="471.40" y1="141.00" x2="474.30" y2="141.00" stroke="#231f20" stroke-width="1.15" stroke-linecap="butt"/>
<text x="478.05" y="143.70" font-size="9.4" textLength="29.00" lengthAdjust="spacingAndGlyphs" fill="#231f20" stroke="#231f20" stroke-width="0.16">55 kDa</text>
<text x="81.40" y="565.80" font-size="9.5" text-anchor="end" textLength="23.60" lengthAdjust="spacingAndGlyphs" fill="#231f20" stroke="#231f20" stroke-width="0.16">F4/80</text>
<text x="81.50" y="591.90" font-size="9.5" text-anchor="end" textLength="36.60" lengthAdjust="spacingAndGlyphs" fill="#231f20" stroke="#231f20" stroke-width="0.16">β-tubulin</text>
<text x="101.00" y="547.40" font-size="9.4" textLength="31.20" lengthAdjust="spacingAndGlyphs" transform="rotate(-45 101.00 547.40)" fill="#231f20" stroke="#231f20" stroke-width="0.16">Control</text>
<text x="132.00" y="547.60" font-size="9.4" textLength="47.80" lengthAdjust="spacingAndGlyphs" transform="rotate(-45 132.00 547.60)" fill="#231f20" stroke="#231f20" stroke-width="0.16">Clodronate</text>
<rect x="85.40" y="550.90" width="59.20" height="23.90" fill="url(#gG)" filter="url(#b06)"/>
<rect x="86.00" y="550.80" width="16.00" height="3.60" rx="1.80" fill="#0a0a0a" opacity="0.42" filter="url(#b16)"/>
<rect x="87.00" y="552.50" width="24.00" height="5.00" rx="2.50" fill="#0a0a0a" opacity="0.16" filter="url(#b16)"/>
<rect x="89.20" y="559.60" width="22.40" height="6.40" rx="3.20" fill="#0a0a0a" opacity="0.96" filter="url(#b10)"/>
<rect x="119.10" y="561.40" width="21.00" height="2.40" rx="1.20" fill="#0a0a0a" opacity="0.3" filter="url(#b10)"/>
<rect x="137.50" y="561.40" width="2.00" height="3.60" rx="1.80" fill="#0a0a0a" opacity="0.18" filter="url(#b10)"/>
<rect x="85.40" y="578.70" width="59.20" height="18.30" fill="#e7e7e7" filter="url(#b06)"/>
<rect x="88.70" y="586.60" width="23.40" height="6.40" rx="3.20" fill="#0a0a0a" opacity="0.98" filter="url(#b10)"/>
<rect x="117.80" y="586.60" width="23.60" height="6.40" rx="3.20" fill="#0a0a0a" opacity="0.98" filter="url(#b10)"/>
<line x1="146.40" y1="552.70" x2="149.30" y2="552.70" stroke="#231f20" stroke-width="1.15" stroke-linecap="butt"/>
<text x="152.55" y="555.60" font-size="9.4" textLength="34.00" lengthAdjust="spacingAndGlyphs" fill="#231f20" stroke="#231f20" stroke-width="0.16">180 kDa</text>
<line x1="146.40" y1="573.40" x2="149.30" y2="573.40" stroke="#231f20" stroke-width="1.15" stroke-linecap="butt"/>
<text x="152.55" y="576.00" font-size="9.4" textLength="34.00" lengthAdjust="spacingAndGlyphs" fill="#231f20" stroke="#231f20" stroke-width="0.16">130 kDa</text>
<line x1="146.40" y1="589.40" x2="149.30" y2="589.40" stroke="#231f20" stroke-width="1.15" stroke-linecap="butt"/>
<text x="153.05" y="591.70" font-size="9.4" textLength="28.60" lengthAdjust="spacingAndGlyphs" fill="#231f20" stroke="#231f20" stroke-width="0.16">55 kDa</text>
</svg>
<div id="frame"></div>
</body>
</html>
